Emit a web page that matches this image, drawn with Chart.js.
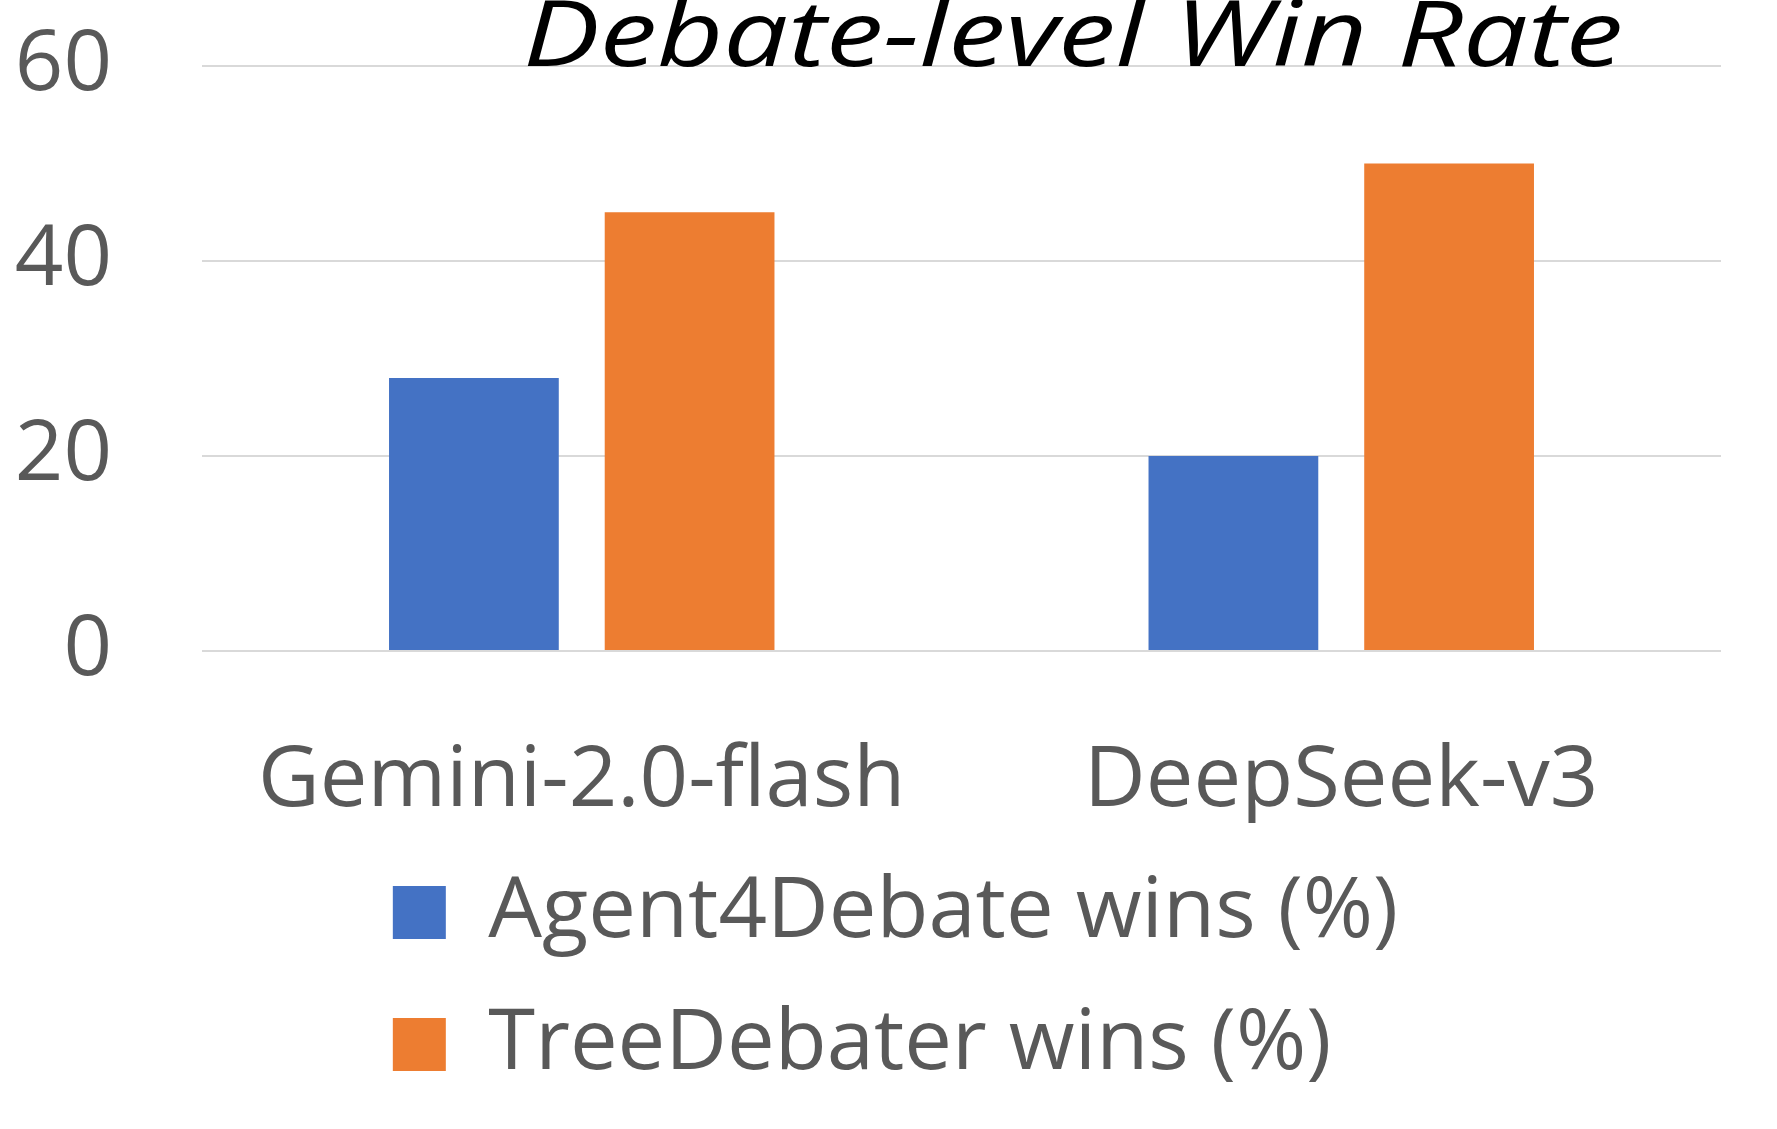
<!DOCTYPE html>
<html>
<head>
<meta charset="utf-8">
<script src="https://cdn.jsdelivr.net/npm/chart.js@4/dist/chart.umd.min.js"></script>
<style>
  html, body { margin: 0; padding: 0; background: #fff; }
  #wrap { width: 1777px; height: 1129px; }
</style>
</head>
<body>
<div id="wrap"><canvas id="winChart"></canvas></div>
<script>
// data
const models = ["Gemini-2.0-flash", "DeepSeek-v3"];
const agent4DebateWins = [28, 20];
const treeDebaterWins = [45, 50];
const yTicks = [0, 20, 40, 60];
const seriesNames = ["Agent4Debate wins (%)", "TreeDebater wins (%)"];
const chartTitle = "Debate-level Win Rate";

const FONT = "'Open Sans', 'Noto Sans', sans-serif";
const GREY = "#595959";

// the title is cut off at the top of the picture and sits over the 60 line
const cutTitle = {
  id: "cutTitle",
  afterDraw(chart) {
    const ctx = chart.ctx;
    ctx.save();
    ctx.font = "italic 92px " + FONT;
    ctx.fillStyle = "#000";
    ctx.textAlign = "center";
    ctx.textBaseline = "alphabetic";
    // original font is wider than Open Sans, stretch to the same width
    const sx = 1100 / ctx.measureText(chartTitle).width;
    ctx.translate(1073, 66);
    ctx.scale(sx, 1);
    ctx.fillText(chartTitle, 0, 0);
    ctx.restore();
  }
};

// first legend row centred on the canvas, second row starts under it
const legendRows = {
  id: "legendRows",
  afterUpdate(chart) {
    const lg = chart.legend;
    if (!lg || !lg.lineWidths) return;
    const w = lg.lineWidths[0] + lg.left + lg.right - chart.width - 14;
    lg.lineWidths.fill(w);
  }
};

new Chart(document.getElementById("winChart"), {
  type: "bar",
  data: {
    labels: models,
    datasets: [
      {
        label: seriesNames[0],
        data: agent4DebateWins,
        backgroundColor: "#4472C4",
        categoryPercentage: 0.568,
        barPercentage: 0.787,
      },
      {
        label: seriesNames[1],
        data: treeDebaterWins,
        backgroundColor: "#ED7D31",
        categoryPercentage: 0.568,
        barPercentage: 0.787,
      },
    ],
  },
  options: {
    responsive: true,
    maintainAspectRatio: false,
    animation: false,
    layout: { padding: { top: 66, left: 10, right: 56, bottom: 32 } },
    scales: {
      x: {
        grid: { display: false, drawTicks: false },
        border: { display: false },
        afterFit: (axis) => {
          axis.height = 172;
        },
        ticks: {
          color: GREY,
          font: { family: FONT, size: 85 },
          padding: 80,
        },
      },
      y: {
        min: 0,
        max: 60,
        afterBuildTicks: (axis) => {
          axis.ticks = yTicks.map((v) => ({ value: v }));
        },
        afterFit: (axis) => {
          axis.width = 192;
        },
        ticks: { color: GREY, font: { family: FONT, size: 85 }, padding: 8 },
        // invisible tick marks give the wide gap between labels and plot
        grid: {
          color: "#D9D9D9",
          lineWidth: 2,
          tickLength: 82,
          tickColor: "rgba(0,0,0,0)",
        },
        border: { display: false },
      },
    },
    plugins: {
      legend: {
        position: "bottom",
        labels: {
          boxWidth: 53,
          boxHeight: 53,
          padding: 47,
          color: GREY,
          font: { family: FONT, size: 85 },
        },
      },
      tooltip: { enabled: false },
    },
  },
  plugins: [cutTitle, legendRows],
});
</script>
</body>
</html>
